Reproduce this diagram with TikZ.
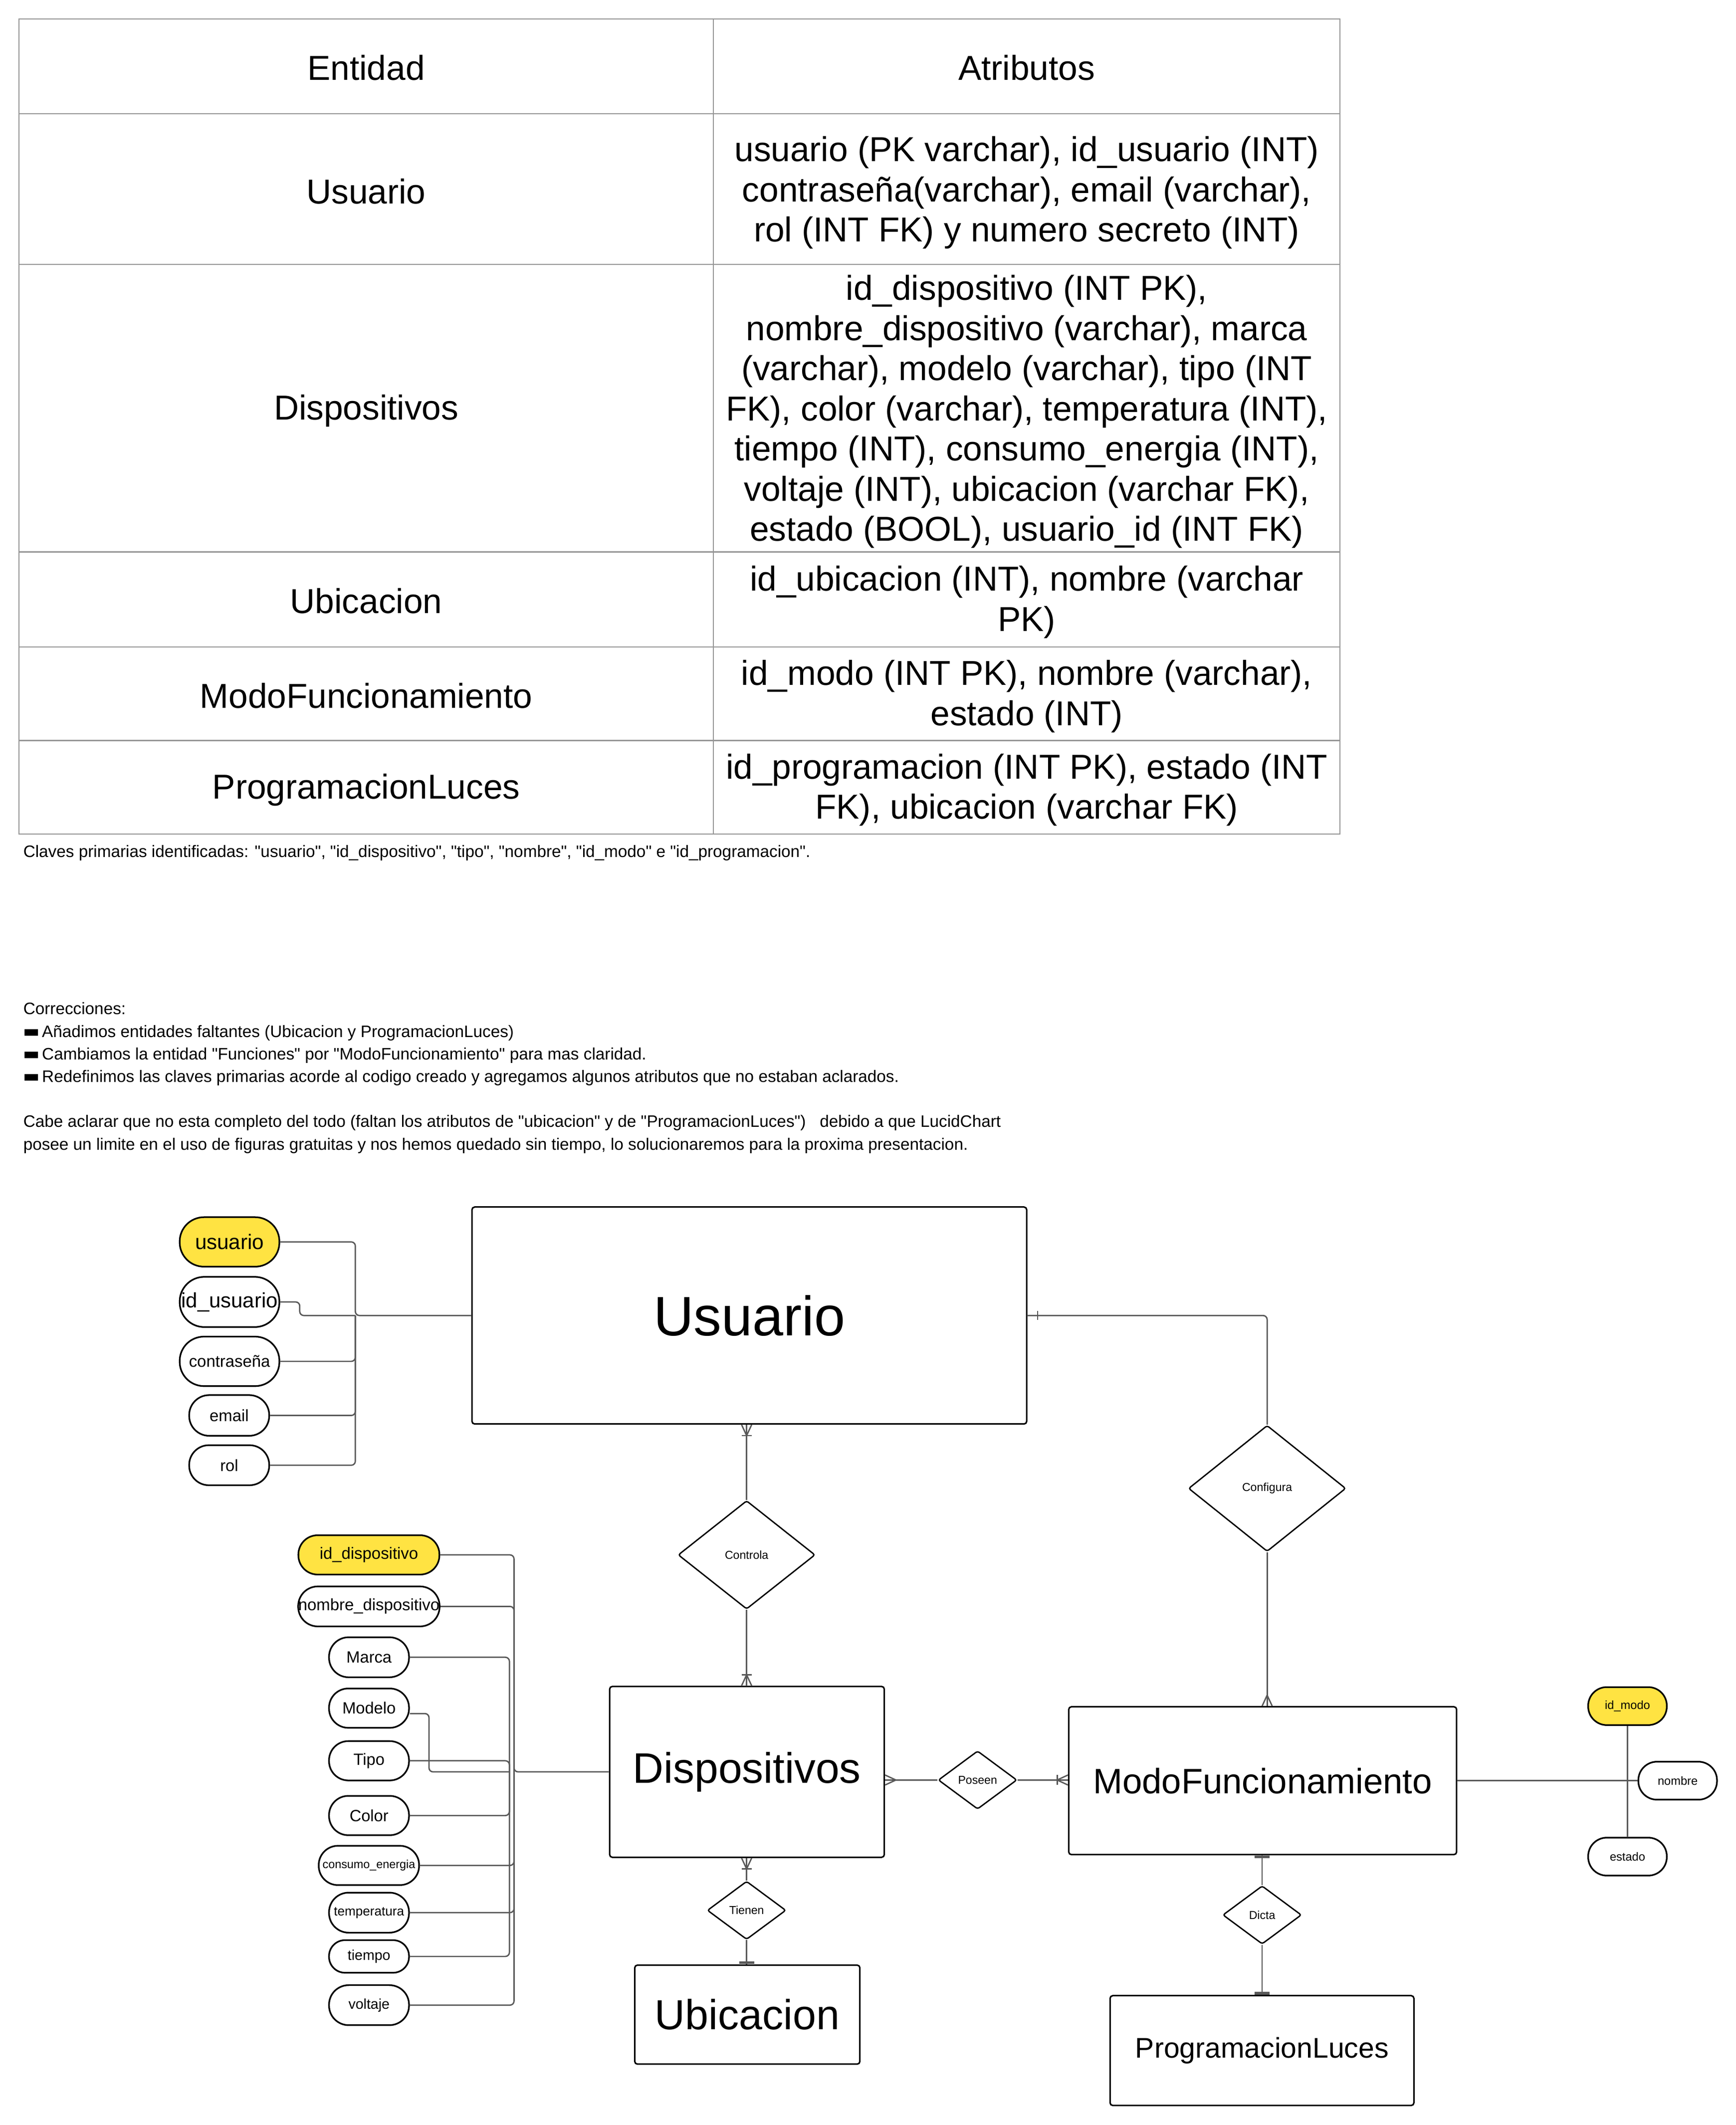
\documentclass[tikz,border=0pt]{standalone}
\usepackage{fontspec}
\setmainfont{Liberation Sans}[Ligatures=TeXOff]
\newfontfamily\dejavufont{DejaVu Sans}
\usetikzlibrary{shapes.geometric}
\definecolor{pkyellow}{RGB}{255,227,66}
\definecolor{connclr}{RGB}{88,88,88}
\definecolor{gridclr}{RGB}{150,150,150}
\newcommand\corrbullet{{\dejavufont\fontsize{13}{13}\selectfont ▬}\hspace{1.5pt}}
\tikzset{
  crowline/.style={draw=connclr, line width=1pt},
  crowfork/.pic={\draw[crowline] (0,-3.7) -- (8,0) -- (0,3.7);},
  crowforkbar/.pic={\draw[crowline] (0,-3.7) -- (8,0) -- (0,3.7); \draw[crowline] (8,-3.7) -- (8,3.7);},
  crowone/.pic={\draw[crowline] (7.5,-3.4) -- (7.5,3.4);},
  crowthick/.pic={\draw[crowline, line width=2pt] (1.2,-5.5) -- (1.2,5.5);}
}
\begin{document}
\begin{tikzpicture}[x=1pt,y=-1pt,
  tabtxt/.style={align=center, inner sep=0, font=\fontsize{25.5}{29.6}\selectfont},
  smalltxt/.style={inner sep=0, anchor=base west, font=\fontsize{12.25}{14}\selectfont},
  entbox/.style={draw, line width=1.1pt, rounded corners=2pt, inner sep=0},
  attrpill/.style n args={3}{draw, line width=1.2pt, inner sep=0, minimum width=#1, minimum height=#2, rounded corners=0.49*#2, font=\fontsize{#3}{#3}\selectfont},
  pkfill/.style={fill=pkyellow},
  relbox/.style={draw, line width=1pt, diamond, aspect=1, inner sep=0, rounded corners=1.5pt, font=\fontsize{8.5}{8.5}\selectfont},
  connline/.style={draw=connclr, line width=1pt, rounded corners=3pt}
]
\useasboundingbox[fill=white] (0,0) rectangle (1280,1566.9);

% ---------- table ----------
\draw[gridclr, line width=0.8pt] (14,14) rectangle (988,615);
\draw[gridclr, line width=0.8pt] (526,14) -- (526,615);
\foreach \yy in {84,195,407,477,546} \draw[gridclr, line width=0.8pt] (14,\yy) -- (988,\yy);

\node[tabtxt] (e0) at (270,50) {Entidad};
\node[tabtxt] (a0) at (757,50) {Atributos};
\node[tabtxt] (e1) at (270,141) {Usuario};
\node[tabtxt] (a1) at (757,142) {usuario (PK varchar), id\_usuario (INT)\\contraseña(varchar), email (varchar),\\rol (INT FK) y numero secreto (INT)};
\node[tabtxt] (e2) at (270,303) {Dispositivos};
\node[tabtxt] (a2) at (757,303.5) {id\_dispositivo (INT PK),\\nombre\_dispositivo (varchar), marca\\(varchar), modelo (varchar), tipo (INT\\FK), color (varchar), temperatura (INT),\\tiempo (INT), consumo\_energia (INT),\\voltaje (INT), ubicacion (varchar FK),\\estado (BOOL), usuario\_id (INT FK)};
\node[tabtxt] (e3) at (270,443) {Ubicacion};
\node[tabtxt] (a3) at (757,444) {id\_ubicacion (INT), nombre (varchar\\PK)};
\node[tabtxt] (e4) at (270,513) {ModoFuncionamiento};
\node[tabtxt] (a4) at (757,513.5) {id\_modo (INT PK), nombre (varchar),\\estado (INT)};
\node[tabtxt] (e5) at (270,582.5) {ProgramacionLuces};
\node[tabtxt] (a5) at (757,582.5) {id\_programacion (INT PK), estado (INT\\FK), ubicacion (varchar FK)};

\node[smalltxt] (cap) at (17,632) {Claves primarias identificadas: "usuario", "id\_dispositivo", "tipo", "nombre", "id\_modo" e "id\_programacion".};

% ---------- notes ----------
\node[smalltxt] (c0) at (17,748) {Correcciones:};
\node[smalltxt] (c1) at (17,765) {\corrbullet Añadimos entidades faltantes (Ubicacion y ProgramacionLuces)};
\node[smalltxt] (c2) at (17,781.5) {\corrbullet Cambiamos la entidad "Funciones" por "ModoFuncionamiento" para mas claridad.};
\node[smalltxt] (c3) at (17,798) {\corrbullet Redefinimos las claves primarias acorde al codigo creado y agregamos algunos atributos que no estaban aclarados.};
\node[smalltxt] (c4) at (17,831) {Cabe aclarar que no esta completo del todo (faltan los atributos de "ubicacion" y de "ProgramacionLuces")\ \ \ debido a que LucidChart};
\node[smalltxt] (c5) at (17,848) {posee un limite en el uso de figuras gratuitas y nos hemos quedado sin tiempo, lo solucionaremos para la proxima presentacion.};

% ---------- entities ----------
\node[entbox, minimum width=409, minimum height=160, font=\fontsize{41}{41}\selectfont] (U) at (552.5,970) {Usuario};
\node[entbox, minimum width=202.5, minimum height=126, font=\fontsize{31.5}{31.5}\selectfont] (D) at (550.75,1306.5) {Dispositivos};
\node[entbox, minimum width=166, minimum height=73, font=\fontsize{31}{31}\selectfont] (Ub) at (551,1485.5) {Ubicacion};
\node[entbox, minimum width=286, minimum height=109, font=\fontsize{26}{26}\selectfont] (M) at (931,1313) {ModoFuncionamiento};
\node[entbox, minimum width=224, minimum height=81, font=\fontsize{21}{21}\selectfont] (P) at (930.5,1512) {ProgramacionLuces};

% ---------- relationships ----------
\node[relbox, minimum width=101, minimum height=80] (R1) at (550.5,1146.5) {Controla};
\node[relbox, minimum width=116, minimum height=93] (R2) at (934.3,1097.5) {Configura};
\node[relbox, minimum width=58, minimum height=43] (R3) at (720.8,1312.5) {Poseen};
\node[relbox, minimum width=58, minimum height=43] (R4) at (550.5,1408.6) {Tienen};
\node[relbox, minimum width=58, minimum height=43] (R5) at (930.6,1412) {Dicta};

% ---------- Usuario attributes ----------
\node[attrpill={73.5}{36.5}{15.5}, pkfill] (ua1) at (169.25,915.75) {usuario};
\node[attrpill={73.5}{37}{15.4}] (ua2) at (169.25,960) {id\_usuario};
\node[attrpill={73.5}{36.5}{12.1}] (ua3) at (169.25,1003.8) {contraseña};
\node[attrpill={59}{30}{12.1}] (ua4) at (169,1043.7) {email};
\node[attrpill={59}{29.5}{12}] (ua5) at (169,1080.4) {rol};

\coordinate (ubus) at (262,970);
\coordinate (ujog) at (221,970);
\draw[connline] (ua1.east) -| (ubus) -- (U.west);
\draw[connline] (ua2.east) -| (ujog) -- (ubus);
\draw[connline] (ua3.east) -| (ubus);
\draw[connline] (ua4.east) -| (ubus);
\draw[connline] (ua5.east) -| (ubus);

% ---------- Dispositivos attributes ----------
\node[attrpill={104}{29}{12.1}, pkfill] (da1) at (272,1146.5) {id\_dispositivo};
\node[attrpill={104}{29.5}{12.1}] (da2) at (272,1184.5) {nombre\_dispositivo};
\node[attrpill={59}{29.5}{12}] (da3) at (272.1,1222) {Marca};
\node[attrpill={59}{29}{12}] (da4) at (272.1,1259.5) {Modelo};
\node[attrpill={59}{29}{12}] (da5) at (272.1,1298.3) {Tipo};
\node[attrpill={59}{29}{12}] (da6) at (272.1,1338.7) {Color};
\node[attrpill={74}{29}{8.6}] (da7) at (272,1375.5) {consumo\_energia};
\node[attrpill={59}{29.5}{9.6}] (da8) at (272.1,1410.3) {temperatura};
\node[attrpill={59}{24}{10.5}] (da9) at (272.1,1442.6) {tiempo};
\node[attrpill={59}{29.5}{10.5}] (da10) at (272.1,1478.5) {voltaje};

\coordinate (dbusa) at (379,1306.5);
\coordinate (dbusb) at (375.6,1306.5);
\coordinate (dmod) at (316.3,1306.5);
\draw[connline] (da1.east) -| (dbusa) -- (D.west);
\draw[connline] (da2.east) -| (dbusa);
\draw[connline] (da3.east) -| (dbusb);
\draw[connline] ([yshift=-4pt]da4.east) -| (dmod) -- (dbusb);
\draw[connline] (da5.east) -| (dbusb);
\draw[connline] (da6.east) -| (dbusb);
\draw[connline] (da7.east) -| (dbusa);
\draw[connline] (da8.east) -| (dbusa);
\draw[connline] (da9.east) -| (dbusb);
\draw[connline] (da10.east) -| (dbusa);

% ---------- ModoFuncionamiento attributes ----------
\node[attrpill={58}{28}{8.7}, pkfill] (ma1) at (1200,1258) {id\_modo};
\node[attrpill={58}{28}{8.7}] (ma2) at (1237,1313) {nombre};
\node[attrpill={58}{28}{8.7}] (ma3) at (1200,1369) {estado};
\draw[connline] (M.east) -- (ma2.west);
\draw[connline] (ma1.south) -- (ma3.north);

% ---------- relationship connectors ----------
\draw[connline] (U.south -| R1.north) -- (R1.north);
\pic[rotate=-90] at (U.south -| R1.north) {crowforkbar};
\draw[connline] (R1.south) -- (R1.south |- D.north);
\pic[rotate=90] at (R1.south |- D.north) {crowforkbar};

\draw[connline] (U.east) -| (R2.north);
\pic at (U.east) {crowone};
\draw[connline] (R2.south) -- (R2.south |- M.north);
\pic[rotate=90] at (R2.south |- M.north) {crowfork};

\draw[connline] (D.east |- R3.west) -- (R3.west);
\pic at (D.east |- R3.west) {crowfork};
\draw[connline] (R3.east) -- (M.west |- R3.east);
\pic[rotate=180] at (M.west |- R3.east) {crowforkbar};

\draw[connline] (D.south -| R4.north) -- (R4.north);
\pic[rotate=-90] at (D.south -| R4.north) {crowforkbar};
\draw[connline] (R4.south) -- (R4.south |- Ub.north);
\pic[rotate=90] at (R4.south |- Ub.north) {crowthick};

\draw[connline] (M.south -| R5.north) -- (R5.north);
\pic[rotate=-90] at (M.south -| R5.north) {crowthick};
\draw[connline] (R5.south) -- (R5.south |- P.north);
\pic[rotate=90] at (R5.south |- P.north) {crowthick};
\end{tikzpicture}
\end{document}
